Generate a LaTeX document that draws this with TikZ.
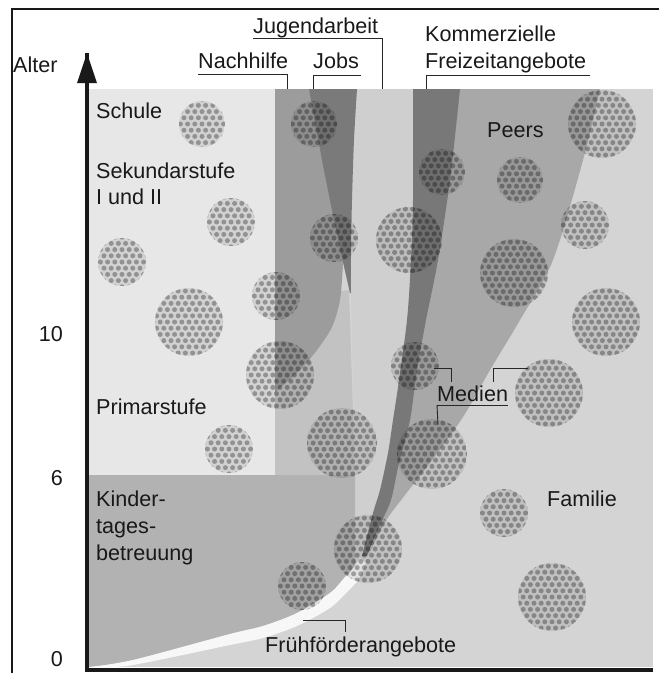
\documentclass[tikz,border=0pt]{standalone}
\usepackage{fontspec}
\setmainfont{Liberation Sans}
\usetikzlibrary{arrows.meta}
\definecolor{famc}{gray}{0.83}
\definecolor{schulc}{gray}{0.905}
\definecolor{kitac}{gray}{0.70}
\definecolor{nachc}{gray}{0.61}
\definecolor{jobsc}{gray}{0.48}
\definecolor{jugc}{gray}{0.81}
\definecolor{jzwc}{gray}{0.76}
\definecolor{kommc}{gray}{0.47}
\definecolor{peersc}{gray}{0.66}
\definecolor{ffc}{gray}{0.97}
\newcommand\dotblob[3]{%
  \begin{scope}
    \clip (#1,#2) circle (#3pt);
    \fill[black,opacity=0.09] (#1,#2) circle (#3pt);
    \foreach \j in {-6,...,6}{%
      \pgfmathsetmacro\dshift{mod(abs(\j),2)*3.6}%
      \foreach \i in {-6,...,6}{%
        \fill[black,opacity=0.30] (#1+\i*7.2+\dshift,#2+\j*6.2) circle (2.5pt);
      }%
    }%
  \end{scope}}
\tikzset{
  lbl/.style={font=\fontsize{21.6}{26}\selectfont, inner sep=0pt, anchor=base west, text=black!90},
  tick/.style={font=\fontsize{21.6}{26}\selectfont, inner sep=0pt, anchor=base east, text=black!90},
  lead/.style={draw=black!85, line width=0.9pt},
  axisline/.style={draw=black!90, line width=4pt}
}
\begin{document}
\begin{tikzpicture}[x=1pt,y=-1pt]
\useasboundingbox (0,0) rectangle (659,673);
% frame
\draw[line width=1.8pt, black!90] (12,673) -- (12,9) -- (659,9);
% panel (Familie)
\fill[famc] (89,89) rectangle (653,667);
% Schule / Primarstufe
\fill[schulc] (89,89) rectangle (275,475);
% region below Nachhilfe
\fill[jzwc] (275,300) -- (349,290) -- (355,475) -- (275,475) -- cycle;
% Jugendarbeit band
\fill[jugc] (351,89) -- (424,89) -- (417,200) -- (411,320) -- (399,420) -- (384,490) -- (366,556) -- (355,575) -- (355,475) -- (351,292) -- cycle;
% Nachhilfe
\fill[nachc] (275,89) -- (335,89) -- plot[smooth] coordinates {(345,230)(343,265)(340,300)(332,327)(317,350)(298,372)(275,392)} -- cycle;
% Jobs
\fill[jobsc] plot[smooth] coordinates {(309,89)(322,160)(333,215)(343,262)(350,293)} -- plot[smooth] coordinates {(351,293)(351,250)(352,200)(354,140)(357,89)} -- cycle;
% Peers
\fill[peersc] (450,89) -- plot[smooth] coordinates {(600,89)(583,160)(553,260)(520,320)(490,370)(463,417)(432,460)(405,495)(385,522)(368,556)} -- (380,525) -- (395,470) -- (415,362) -- (440,200) -- cycle;
% Kommerzielle Freizeitangebote
\fill[kommc] plot[smooth] coordinates {(413,89)(413,200)(411,260)(407,320)(398,387)(393,420)(388,453)(380,490)(373,513)(362,556)} -- plot[smooth] coordinates {(367,556)(380,525)(391,500)(399,463)(410,420)(417,370)(426,320)(438,260)(450,180)(460,89)} -- cycle;
% Kindertagesbetreuung
\fill[kitac] (89,475) -- (355,475) -- (355,568) -- plot[smooth] coordinates {(351,571)(345,577)(330,593)(297,613)(263,626)(230,634)(133,660)(89,667)} -- cycle;
% Fruehfoerderangebote
\fill[ffc] plot[smooth] coordinates {(89,667)(133,660)(230,634)(263,626)(297,613)(330,593)(345,577)(351,571)(360,558)} -- plot[smooth] coordinates {(366,563)(358,580)(348,591)(330,608)(297,626)(263,638)(230,645)(133,665)(100,667)} -- cycle;
% blobs
\dotblob{202}{124}{23}
\dotblob{314}{124}{23}
\dotblob{442}{172}{23}
\dotblob{520}{180}{23}
\dotblob{602}{124}{34}
\dotblob{231}{222}{24}
\dotblob{334}{238}{24}
\dotblob{409}{240}{33}
\dotblob{585}{225}{24}
\dotblob{122}{262}{24}
\dotblob{514}{273}{34}
\dotblob{276}{296}{24}
\dotblob{189}{322}{34}
\dotblob{606}{322}{34}
\dotblob{280}{375}{34}
\dotblob{415}{366}{24}
\dotblob{549}{393}{34}
\dotblob{229}{449}{24}
\dotblob{342}{443}{35}
\dotblob{432}{454}{35}
\dotblob{504}{513}{24}
\dotblob{368}{549}{34}
\dotblob{302}{586}{24}
\dotblob{552}{597}{34}
% axes
\coordinate (O) at (87,669.5);
\coordinate (ytop) at (87,53);
\coordinate (xend) at (653,669.5);
\draw[axisline, line join=miter] (xend) -- (O) -- (ytop);
\fill[black!90] (ytop) -- (97,83) -- (77,83) -- cycle;
% labels
\node[lbl] (alter) at (13,72) {Alter};
\node[tick] (t10) at (63,341) {10};
\node[tick] (t6) at (63,485) {6};
\node[tick] (t0) at (63,666) {0};
\node[lbl] (schule) at (96,118) {Schule};
\node[lbl] (sek) at (96,178) {Sekundarstufe};
\node[lbl] (sek2) at (96,204) {I und II};
\node[lbl] (prim) at (96,414) {Primarstufe};
\node[lbl] (kita1) at (96,506) {Kinder-};
\node[lbl] (kita2) at (96,533) {tages-};
\node[lbl] (kita3) at (96,560) {betreuung};
\node[lbl] (peers) at (487,137) {Peers};
\node[lbl] (fam) at (547,506) {Familie};
\node[lbl] (jug) at (253,33) {Jugendarbeit};
\node[lbl] (nach) at (198,68) {Nachhilfe};
\node[lbl] (jobs) at (313,68) {Jobs};
\node[lbl] (komm) at (425,41) {Kommerzielle};
\node[lbl] (frei) at (425,68) {Freizeitangebote};
\node[lbl] (med) at (437,401.5) {Medien};
\node[lbl] (ff) at (265,652) {Frühförderangebote};
% leader end points
\coordinate (jugend) at (382,89);
\coordinate (nachend) at (287,89);
\coordinate (jobsend) at (313,89);
\coordinate (freiend) at (426,89);
\coordinate (medA) at (434,368);
\coordinate (medB) at (451,382);
\coordinate (medC) at (528,368);
\coordinate (medD) at (493,382);
\coordinate (medE) at (438,425);
\coordinate (ffA) at (303,620);
\coordinate (ffB) at (345,632);
% leaders
\draw[lead] ([yshift=-5.5pt]jug.base west) -| (jugend);
\draw[lead] ([yshift=-6pt]nach.base west) -| (nachend);
\draw[lead] ([shift={(2pt,-7pt)}]jobs.base east) -| (jobsend);
\draw[lead] ([shift={(4pt,-7pt)}]frei.base east) -| (freiend);
\draw[lead] ([yshift=-3.5pt]med.base west) -- ([yshift=-3.5pt]med.base east);
\draw[lead] ([yshift=-3.5pt]med.base west) -- (medE);
\draw[lead] (medA) -| (medB);
\draw[lead] (medC) -| (medD);
\draw[lead] (ffA) -| (ffB);
\end{tikzpicture}
\end{document}
